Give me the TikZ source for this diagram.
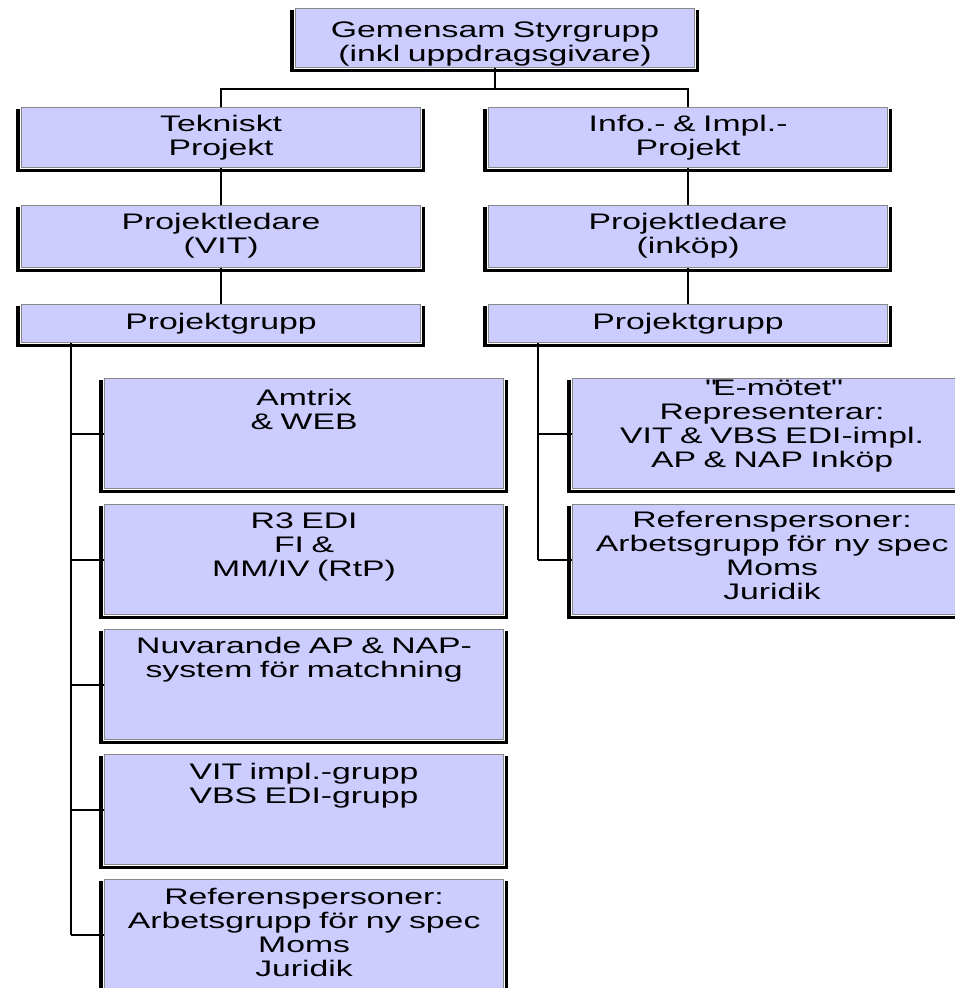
\documentclass[tikz,border=0pt]{standalone}
\usepackage{fontspec}
\setmainfont[FakeStretch=1.5]{Liberation Sans}
\usetikzlibrary{calc}
\definecolor{boxfill}{HTML}{CCCCFF}
\definecolor{boxline}{HTML}{888888}
\tikzset{
  box/.style={draw=boxline, line width=1.2pt, fill=boxfill, rectangle, inner sep=0pt, anchor=north west},
  wide/.style={minimum width=399pt},
  txt/.style={inner sep=0pt, anchor=base, align=center, text width=399pt, font=\fontsize{22.5}{24}\selectfont},
  link/.style={line width=2pt, black},
}
\newcommand\boxshadow[1]{%
  \fill[black] ($(#1.north west)+(-5,2)$) rectangle ($(#1.south west)+(-0.6,4)$);
  \fill[black] ($(#1.south west)+(-5,0.6)$) rectangle ($(#1.south east)+(4,4)$);
  \fill[black] ($(#1.north east)+(0.6,2)$) rectangle ($(#1.south east)+(4,4)$);
}
\begin{document}
\begin{tikzpicture}[x=1pt,y=-1pt]
\useasboundingbox (0,0) rectangle (955,988);
\clip (0,0) rectangle (955,988);
% boxes
\node[box, wide, minimum height=59pt] (top) at (295,8) {};
\node[box, wide, minimum height=60pt] (tek) at (21,107) {};
\node[box, wide, minimum height=60pt] (info) at (488,107) {};
\node[box, wide, minimum height=62pt] (pl1) at (21,205) {};
\node[box, wide, minimum height=62pt] (pl2) at (488,205) {};
\node[box, wide, minimum height=38pt] (pg1) at (21,304) {};
\node[box, wide, minimum height=38pt] (pg2) at (488,304) {};
\node[box, wide, minimum height=110pt] (c1) at (104,378) {};
\node[box, wide, minimum height=110pt] (c2) at (104,504) {};
\node[box, wide, minimum height=110pt] (c3) at (104,629) {};
\node[box, wide, minimum height=110pt] (c4) at (104,754) {};
\node[box, wide, minimum height=110pt] (c5) at (104,879) {};
\node[box, wide, minimum height=110pt] (d1) at (572,378) {};
\node[box, wide, minimum height=110pt] (d2) at (572,504) {};
\foreach \n in {top,tek,info,pl1,pl2,pg1,pg2,c1,c2,c3,c4,c5,d1,d2}{\boxshadow{\n}}
% connectors
\coordinate (j) at (495,89);
\draw[link] (top.south) -- (top.south |- j);
\draw[link] (tek.north) -- (tek.north |- j) -- (info.north |- j) -- (info.north);
\draw[link] (tek.south) -- (pl1.north);
\draw[link] (pl1.south) -- (pg1.north);
\draw[link] (info.south) -- (pl2.north);
\draw[link] (pl2.south) -- (pg2.north);
\draw[link] ([xshift=50pt]pg1.south west) -- ([xshift=50pt]pg1.south west |- c5.west);
\foreach \c in {c1,c2,c3,c4,c5}{\draw[link] ([xshift=50pt]pg1.south west |- \c.west) -- (\c.west);}
\draw[link] ([xshift=50pt]pg2.south west) -- ([xshift=50pt]pg2.south west |- d2.west);
\foreach \c in {d1,d2}{\draw[link] ([xshift=50pt]pg2.south west |- \c.west) -- (\c.west);}
% texts
\node[txt] (ttop) at ($(top.north)+(0,29)$) {Gemensam Styrgrupp\\(inkl uppdragsgivare)};
\node[txt] (ttek) at ($(tek.north)+(0,24)$) {Tekniskt\\Projekt};
\node[txt] (tinfo) at ($(info.north)+(0,24)$) {Info.- \& Impl.-\\Projekt};
\node[txt] (tpl1) at ($(pl1.north)+(0,24)$) {Projektledare\\(VIT)};
\node[txt] (tpl2) at ($(pl2.north)+(0,24)$) {Projektledare\\(inköp)};
\node[txt] (tpg1) at ($(pg1.north)+(0,25)$) {Projektgrupp};
\node[txt] (tpg2) at ($(pg2.north)+(0,25)$) {Projektgrupp};
\node[txt] (tc1) at ($(c1.north)+(0,27)$) {Amtrix\\\& WEB};
\node[txt] (tc2) at ($(c2.north)+(0,24)$) {R3 EDI\\FI \&\\MM/IV (RtP)};
\node[txt] (tc3) at ($(c3.north)+(0,24)$) {Nuvarande AP \& NAP-\\system för matchning};
\node[txt] (tc4) at ($(c4.north)+(0,25)$) {VIT impl.-grupp\\VBS EDI-grupp};
\node[txt] (tc5) at ($(c5.north)+(0,25)$) {Referenspersoner:\\Arbetsgrupp för ny spec\\Moms\\Juridik};
\node[txt] (td1) at ($(d1.north)+(0,17)$) {\textquotedbl E-mötet\textquotedbl\\Representerar:\\VIT \& VBS EDI-impl.\\AP \& NAP Inköp};
\node[txt] (td2) at ($(d2.north)+(0,23)$) {Referenspersoner:\\Arbetsgrupp för ny spec\\Moms\\Juridik};
\end{tikzpicture}
\end{document}
